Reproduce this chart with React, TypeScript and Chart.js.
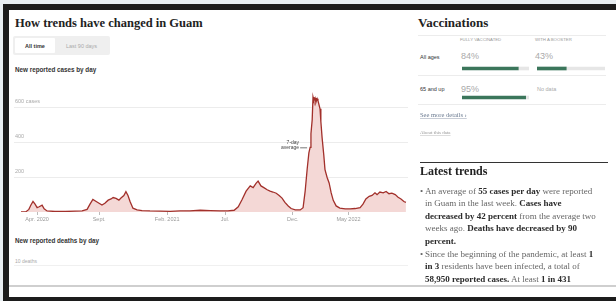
import React, { useEffect, useRef } from 'react';
import { Chart, registerables } from 'chart.js';
Chart.register(...registerables);

// ---- Data ----
// day offset from Apr 1 2020
const days = [-34, -22, -15, -10, -5, 0, 5, 10, 17, 22, 29, 48, 73, 97, 114, 126, 133, 140, 148, 155, 162, 169, 177, 184, 189, 196, 203, 208, 215, 220, 225, 230, 237, 247, 259, 278, 303, 327, 351, 375, 400, 424, 448, 467, 482, 492, 501, 511, 521, 528, 535, 540, 547, 554, 562, 569, 576, 584, 591, 598, 605, 613, 620, 630, 642, 649, 654, 659, 663, 666, 668, 671, 673, 675, 678, 680, 683, 685, 690, 692, 695, 699, 702, 707, 712, 717, 722, 729, 738, 751, 763, 775, 787, 794, 801, 809, 816, 823, 828, 835, 843, 850, 857, 864, 872, 879, 886, 893, 898];
const cases = [0, 2, 15, 40, 61, 45, 25, 30, 39, 18, 6, 3, 3, 5, 6, 15, 45, 72, 60, 50, 40, 50, 68, 75, 83, 78, 68, 80, 95, 117, 95, 60, 22, 12, 8, 6, 5, 4, 6, 7, 10, 8, 7, 6, 10, 30, 70, 120, 150, 140, 165, 178, 150, 140, 128, 120, 115, 108, 95, 80, 55, 35, 20, 12, 12, 25, 120, 250, 340, 372, 450, 530, 661, 640, 655, 630, 652, 640, 594, 520, 428, 330, 244, 200, 167, 110, 67, 35, 22, 18, 18, 20, 25, 45, 75, 90, 95, 110, 100, 115, 110, 118, 105, 108, 100, 85, 75, 60, 55];
const xTickDays = [5, 155, 320, 460, 624, 759];
const xTickLabels = ['Apr. 2020', 'Sept.', 'Feb. 2021', 'Jul.', 'Dec.', 'May 2022'];
const yTickValues = [200, 400, 600];
const yTickLabels = ['200', '400', '600 cases'];
const annotationIndex = 69;
const annotationLines = ['7-day', 'average'];

const vaccGroups = ['All ages', '65 and up'];
const vaccColumns = ['FULLY VACCINATED', 'WITH A BOOSTER'];
const fullyVaccinated = [84, 95];
const boosted: (number | null)[] = [43, null];

const SERIF = '"Liberation Serif", "DejaVu Serif", serif';
const SANS = '"Liberation Sans", Arial, sans-serif';

function Txt(props: any) {
  const { x, base, size, color = '#333', weight = 400, family = SANS, children, style = {} } = props;
  const h = Math.round(size * 1.3);
  const top = base - ((h - 1.11 * size) / 2 + 0.9 * size);
  return (
    <div style={{ position: 'absolute', left: x, top, fontSize: size, lineHeight: `${h}px`, color, fontWeight: weight, fontFamily: family, whiteSpace: 'nowrap', ...style }}>
      {children}
    </div>
  );
}

function Rule({ x, y, w, h = 1, color }: any) {
  return <div style={{ position: 'absolute', left: x, top: y, width: w, height: h, background: color }} />;
}

function CasesChart() {
  const ref = useRef<HTMLCanvasElement>(null);
  useEffect(() => {
    const annotate = {
      id: 'annot',
      afterDatasetsDraw(chart: any) {
        const p = chart.getDatasetMeta(0).data[annotationIndex];
        if (!p) return;
        const ctx = chart.ctx;
        ctx.save();
        ctx.strokeStyle = '#555';
        ctx.lineWidth = 0.8;
        ctx.beginPath();
        ctx.moveTo(p.x - 10, p.y + 0.5);
        ctx.lineTo(p.x - 3, p.y + 0.5);
        ctx.stroke();
        ctx.fillStyle = '#444';
        ctx.font = `5px ${SANS}`;
        ctx.textAlign = 'right';
        ctx.textBaseline = 'middle';
        ctx.fillText(annotationLines[0], p.x - 11, p.y - 5);
        ctx.fillText(annotationLines[1], p.x - 11, p.y + 0.5);
        ctx.restore();
      },
    };
    const chart = new Chart(ref.current as HTMLCanvasElement, {
      type: 'line',
      data: {
        datasets: [{
          data: days.map((d, i) => ({ x: d, y: cases[i] })),
          borderColor: '#a2302b',
          borderWidth: 1.3,
          backgroundColor: '#f4d8d6',
          fill: 'origin',
          pointRadius: 0,
          tension: 0,
        }],
      },
      options: {
        animation: false,
        responsive: false,
        maintainAspectRatio: false,
        layout: { padding: 0 },
        plugins: { legend: { display: false }, tooltip: { enabled: false } },
        scales: {
          x: {
            type: 'linear', min: -51, max: 903,
            afterFit: (s: any) => { s.height = 14; },
            afterBuildTicks: (s: any) => { s.ticks = xTickDays.map((v) => ({ value: v })); },
            ticks: {
              callback: (_v: any, i: number) => xTickLabels[i] ?? '',
              font: { size: 5.5, family: SANS }, color: '#999', padding: 1, maxRotation: 0, autoSkip: false,
            },
            grid: { drawOnChartArea: false, tickLength: 3, color: '#bbb' },
            border: { display: false },
          },
          y: {
            min: 0, max: 700,
            afterFit: (s: any) => { s.width = 0; },
            afterBuildTicks: (s: any) => { s.ticks = yTickValues.map((v) => ({ value: v })); },
            ticks: {
              mirror: true, padding: 1, labelOffset: -6,
              callback: (_v: any, i: number) => yTickLabels[i] ?? '',
              font: { size: 5.5, family: SANS }, color: '#aaa',
            },
            grid: { color: '#ececec', drawTicks: false },
            border: { display: false },
          },
        },
      } as any,
      plugins: [annotate],
    });
    return () => chart.destroy();
  }, []);
  return <canvas ref={ref} width={394} height={140} style={{ position: 'absolute', left: 14, top: 86, width: 394, height: 140 }} />;
}

function VaccBars({ values, left, width }: { values: (number | null)[]; left: number; width: number }) {
  const ref = useRef<HTMLCanvasElement>(null);
  useEffect(() => {
    const chart = new Chart(ref.current as HTMLCanvasElement, {
      type: 'bar',
      data: {
        labels: vaccGroups,
        datasets: [
          { data: values.map((v) => v), backgroundColor: '#3b765b', barThickness: 3 },
          { data: values.map((v) => (v == null ? null : 100 - v)), backgroundColor: '#e6e6e6', barThickness: 3 },
        ],
      },
      options: {
        indexAxis: 'y',
        animation: false,
        responsive: false,
        maintainAspectRatio: false,
        layout: { padding: 0 },
        plugins: { legend: { display: false }, tooltip: { enabled: false } },
        scales: {
          x: { display: false, stacked: true, min: 0, max: 100 },
          y: { display: false, stacked: true },
        },
      } as any,
    });
    return () => chart.destroy();
  }, []);
  return <canvas ref={ref} width={width} height={58} style={{ position: 'absolute', left, top: 53.5, width, height: 58 }} />;
}

export default function App() {
  const bodyColor = '#666';
  const boldColor = '#2a2a2a';
  const B = ({ children }: any) => <b style={{ color: boldColor }}>{children}</b>;
  const bulletLines: any[] = [
    <>An average of <B>55 cases per day</B> were reported</>,
    <>in Guam in the last week. <B>Cases have</B></>,
    <><B>decreased by 42 percent</B> from the average two</>,
    <>weeks ago. <B>Deaths have decreased by 90</B></>,
    <><B>percent.</B></>,
    <>Since the beginning of the pandemic, at least <B>1</B></>,
    <><B>in 3</B> residents have been infected, a total of</>,
    <><B>58,950 reported cases.</B> At least <B>1 in 431</B></>,
  ];
  const bulletStart = [true, false, false, false, false, true, false, false];

  return (
    <div style={{ position: 'fixed', left: 0, top: 0, width: 616, height: 301, background: '#e8eef2', overflow: 'hidden' }}>
      <div style={{ position: 'absolute', left: 3, top: 4, width: 620, height: 300, background: '#1c1c1c' }} />
      <div style={{ position: 'absolute', left: 9, top: 10, width: 610, height: 287, background: '#fff' }} />
      <Rule x={9} y={285} w={610} h={1.5} color="#cfcfcf" />

      {/* Left panel */}
      <Txt x={15} base={27} size={12.5} weight={700} family={SERIF} color="#222">How trends have changed in Guam</Txt>
      <div style={{ position: 'absolute', left: 13, top: 36, width: 97, height: 19, background: '#efefef', borderRadius: 2 }} />
      <div style={{ position: 'absolute', left: 15, top: 38, width: 40, height: 15, background: '#fff', borderRadius: 1 }} />
      <Txt x={15} base={48} size={5.5} weight={700} color="#333" style={{ width: 40, textAlign: 'center' }}>All time</Txt>
      <Txt x={55} base={48} size={5.5} color="#aaa" style={{ width: 53, textAlign: 'center' }}>Last 90 days</Txt>
      <Txt x={15} base={72} size={6.3} weight={700} color="#333">New reported cases by day</Txt>

      <CasesChart />

      <Txt x={15} base={243.5} size={6.3} weight={700} color="#333">New reported deaths by day</Txt>
      <Txt x={15} base={263} size={5} color="#aaa">10 deaths</Txt>
      <Rule x={14} y={265} w={394} h={1} color="#f0f0f0" />

      {/* Right panel */}
      <Txt x={418} base={27} size={13} weight={700} family={SERIF} color="#222">Vaccinations</Txt>
      <Rule x={418} y={35} w={188} h={1} color="#ececec" />
      <Txt x={460} base={41.5} size={4.3} color="#999">{vaccColumns[0]}</Txt>
      <Txt x={535} base={41.5} size={4.3} color="#999">{vaccColumns[1]}</Txt>

      <Txt x={420} base={59} size={5.5} color="#333">{vaccGroups[0]}</Txt>
      <Txt x={461} base={59.5} size={9} color="#aaa">{fullyVaccinated[0]}%</Txt>
      <Txt x={535} base={59.5} size={9} color="#aaa">{boosted[0]}%</Txt>
      <Rule x={418} y={75} w={188} h={1} color="#ececec" />
      <Txt x={420} base={91} size={5.5} color="#333">{vaccGroups[1]}</Txt>
      <Txt x={461} base={92} size={9} color="#aaa">{fullyVaccinated[1]}%</Txt>
      <Txt x={537} base={91} size={5.5} color="#aaa">No data</Txt>
      <Rule x={418} y={104} w={188} h={1} color="#ececec" />
      <VaccBars values={fullyVaccinated} left={462} width={67} />
      <VaccBars values={boosted} left={537} width={68} />

      <Txt x={420} base={117} size={6.5} family={SERIF} color="#6a7a90" style={{ textDecoration: 'underline', textDecorationColor: '#c8cdd6' }}>See more details ›</Txt>
      <Txt x={420} base={134.5} size={5} family={SERIF} color="#999" style={{ textDecoration: 'underline', textDecorationColor: '#ddd' }}>About this data</Txt>
      <Rule x={420} y={161.5} w={188} h={1.2} color="#333" />
      <Txt x={420} base={175} size={12} weight={700} family={SERIF} color="#222">Latest trends</Txt>

      {bulletLines.map((line, i) => (
        <React.Fragment key={i}>
          {bulletStart[i] && <Txt x={420} base={193.8 + i * 12.6} size={9} family={SERIF} color={bodyColor}>•</Txt>}
          <Txt x={425} base={193.8 + i * 12.6} size={9} family={SERIF} color={bodyColor}>{line}</Txt>
        </React.Fragment>
      ))}
    </div>
  );
}
